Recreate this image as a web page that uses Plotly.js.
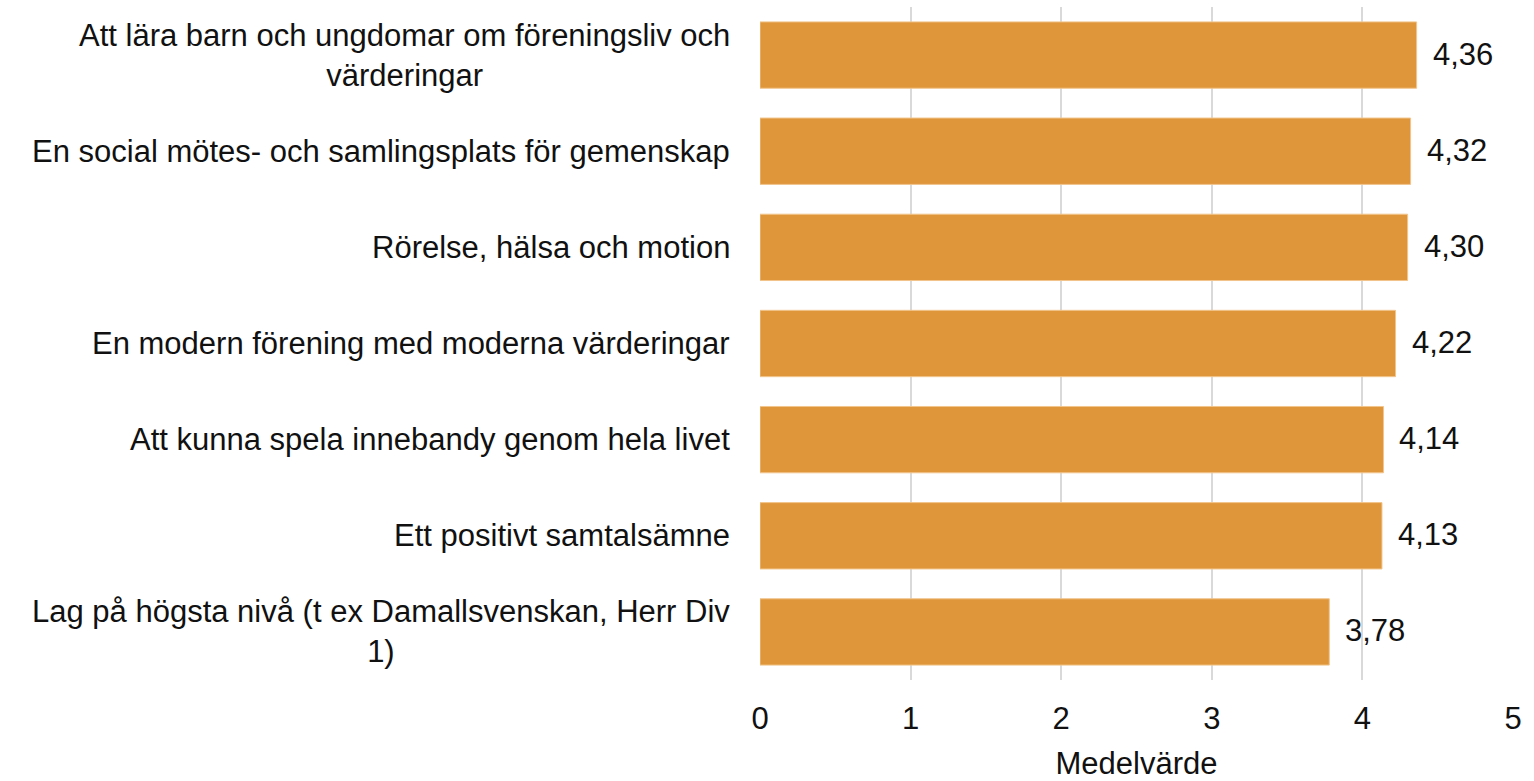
<!DOCTYPE html>
<html>
<head>
<meta charset="utf-8">
<script src="https://cdn.plot.ly/plotly-3.0.1.min.js"></script>
<style>html,body{margin:0;padding:0;background:#fff;}#chart{width:1534px;height:781px;}</style>
</head>
<body>
<div id="chart"></div>
<script>
const categories = [
  "Att lära barn och ungdomar om föreningsliv och<br>värderingar",
  "En social mötes- och samlingsplats för gemenskap",
  "Rörelse, hälsa och motion",
  "En modern förening med moderna värderingar",
  "Att kunna spela innebandy genom hela livet",
  "Ett positivt samtalsämne",
  "Lag på högsta nivå (t ex Damallsvenskan, Herr Div<br>1)"
];
const values = [4.36, 4.32, 4.30, 4.22, 4.14, 4.13, 3.78];
const xTicks = [0, 1, 2, 3, 4, 5];
const xTitle = "Medelvärde";

const FONT = "Liberation Sans, Arial, Helvetica, sans-serif";
const FS = 31;
const ids = categories.map((c, i) => "c" + i);

const trace = {
  type: "bar",
  orientation: "h",
  x: values,
  y: ids,
  marker: { color: "#DF953A", line: { color: "#F2C58C", width: 1 } },
  hoverinfo: "x",
  width: 0.69
};

const annotations = [];
categories.forEach((c, i) => {
  annotations.push({
    xref: "paper", yref: "y", x: 0, y: ids[i],
    text: c, showarrow: false, xanchor: "right", yanchor: "middle",
    align: "center", xshift: -28,
    font: { family: FONT, size: FS, color: "#111" }
  });
  annotations.push({
    xref: "x", yref: "y", x: values[i], y: ids[i],
    text: values[i].toFixed(2).replace(".", ","), showarrow: false,
    xanchor: "left", yanchor: "middle", xshift: 14, yshift: 1,
    font: { family: FONT, size: FS, color: "#111" }
  });
});

const layout = {
  width: 1534, height: 781,
  margin: { l: 760, r: 21, t: 7, b: 101 },
  paper_bgcolor: "#fff", plot_bgcolor: "#fff",
  showlegend: false,
  font: { family: FONT, size: FS, color: "#111" },
  xaxis: {
    range: [0, 5], tickvals: xTicks, ticktext: xTicks.map(String),
    showgrid: true, gridcolor: "#D9D9D9", gridwidth: 2,
    zeroline: false, showline: false, ticks: "",
    ticklabelstandoff: 17,
    tickfont: { family: FONT, size: FS, color: "#111" },
    title: { text: xTitle, font: { family: FONT, size: FS, color: "#111" }, standoff: 20 },
    fixedrange: true
  },
  yaxis: {
    type: "category", categoryorder: "array", categoryarray: ids,
    range: [6.5, -0.5], showticklabels: false, showgrid: false,
    zeroline: false, showline: false, ticks: "", fixedrange: true
  },
  annotations: annotations
};

Plotly.newPlot("chart", [trace], layout, { displayModeBar: false, staticPlot: true });
</script>
</body>
</html>
